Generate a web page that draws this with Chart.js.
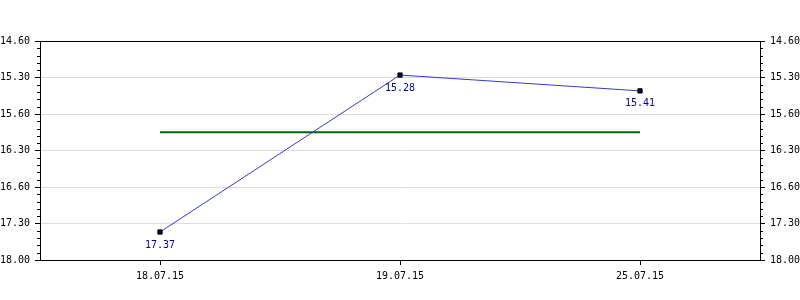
<!DOCTYPE html>
<html>
<head>
<meta charset="utf-8">
<script src="https://cdn.jsdelivr.net/npm/chart.js@4"></script>
<style>
  html, body { margin: 0; padding: 0; background: #fff; }
  #wrap { width: 800px; height: 300px; }
</style>
</head>
<body>
<div id="wrap"><canvas id="chart" width="800" height="300"></canvas></div>
<script>
// dates on the x axis
const dates = ["18.07.15", "19.07.15", "25.07.15"];
// times in seconds (17.37 = 17 min 37 s)
const timeSeconds = [1057, 928, 941];
const pointLabels = ["17.37", "15.28", "15.41"];
// average line, in seconds
const averageSeconds = [975, 975, 975];
// axis range in seconds and its labels, as printed on the picture
const yMin = 900;
const yMax = 1080;
const yStep = 30;
const yTickLabels = ["14.60", "15.30", "15.60", "16.30", "16.60", "17.30", "18.00"];

const FONT = { family: "'DejaVu Sans Mono', monospace", size: 10 };

const tickLabel = (value) => {
  const i = Math.round((value - yMin) / yStep);
  return yTickLabels[i] !== undefined ? yTickLabels[i] : "";
};

const yAxis = (position) => ({
  type: "linear",
  position: position,
  min: yMin,
  max: yMax,
  reverse: true,
  afterFit: s => { s.width = 40; },
  border: { display: true, color: "#000", width: 1 },
  grid: {
    drawOnChartArea: position === "left",
    color: "#dddddd",
    tickColor: "#000",
    tickLength: 5,
    lineWidth: 1
  },
  ticks: {
    stepSize: yStep,
    autoSkip: false,
    padding: 5,
    color: "#000",
    font: FONT,
    callback: tickLabel
  }
});

// small ticks every 6 seconds, plus the frame round the plot
const framePlugin = {
  id: "frame",
  afterDraw(chart) {
    const ctx = chart.ctx;
    const area = chart.chartArea;
    ctx.save();
    ctx.strokeStyle = "#000";
    ctx.lineWidth = 1;
    ["y", "y2"].forEach(id => {
      const sc = chart.scales[id];
      for (let v = yMin; v <= yMax; v += 6) {
        if ((v - yMin) % yStep === 0) continue;
        const py = Math.round(sc.getPixelForValue(v)) + 0.5;
        ctx.beginPath();
        if (id === "y") {
          ctx.moveTo(area.left - 3, py);
          ctx.lineTo(area.left, py);
        } else {
          ctx.moveTo(area.right, py);
          ctx.lineTo(area.right + 3, py);
        }
        ctx.stroke();
      }
    });
    ctx.strokeRect(Math.round(area.left) + 0.5, Math.round(area.top) + 0.5,
      Math.round(area.right - area.left), Math.round(area.bottom - area.top));
    ctx.restore();
  }
};

// value labels under the points
const labelPlugin = {
  id: "pointValues",
  afterDatasetsDraw(chart) {
    const ctx = chart.ctx;
    const meta = chart.getDatasetMeta(0);
    ctx.save();
    ctx.fillStyle = "#000099";
    ctx.font = "10px 'DejaVu Sans Mono', monospace";
    ctx.textAlign = "center";
    ctx.textBaseline = "middle";
    meta.data.forEach((pt, i) => {
      ctx.fillText(pointLabels[i], pt.x, pt.y + 13);
    });
    ctx.restore();
  }
};

new Chart(document.getElementById("chart"), {
  type: "line",
  data: {
    labels: dates,
    datasets: [
      {
        label: "time",
        data: timeSeconds,
        borderColor: "#3838c8",
        borderWidth: 1,
        tension: 0,
        pointStyle: "rect",
        pointRadius: 3,
        pointBackgroundColor: "#000044",
        pointBorderColor: "#000000",
        pointBorderWidth: 1,
        yAxisID: "y"
      },
      {
        label: "average",
        data: averageSeconds,
        borderColor: "#006600",
        borderWidth: 2,
        pointRadius: 0,
        tension: 0,
        yAxisID: "y"
      }
    ]
  },
  options: {
    responsive: false,
    animation: false,
    events: [],
    layout: { padding: { top: 41, left: 0, right: 0, bottom: 0 } },
    plugins: {
      legend: { display: false },
      tooltip: { enabled: false }
    },
    scales: {
      x: {
        type: "category",
        offset: true,
        afterFit: s => { s.height = 40; },
        border: { display: true, color: "#000", width: 1 },
        grid: {
          drawOnChartArea: false,
          offset: false,
          tickColor: "#000",
          tickLength: 5
        },
        ticks: { color: "#000", font: FONT, padding: 5, maxRotation: 0 }
      },
      y: yAxis("left"),
      y2: yAxis("right")
    }
  },
  plugins: [framePlugin, labelPlugin]
});
</script>
</body>
</html>
